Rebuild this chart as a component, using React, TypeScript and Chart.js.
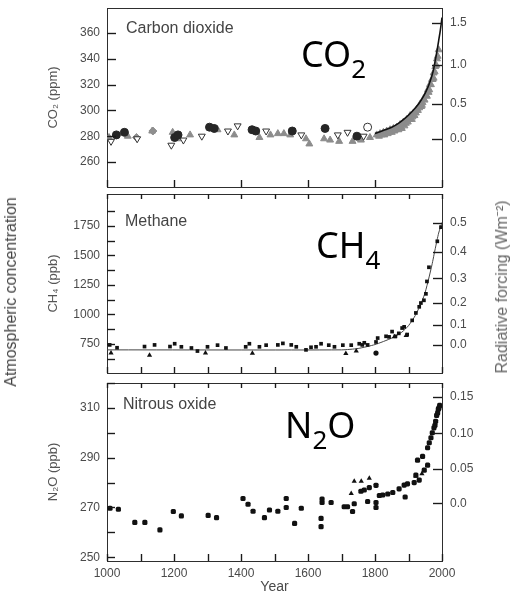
import { useEffect, useRef } from 'react';
import { Chart, registerables } from 'chart.js';
Chart.register(...registerables);

type P = [number, number];

// ---------- shared x axis ----------
const yearLabels = [1000, 1200, 1400, 1600, 1800, 2000];

// ---------- CO2 panel (ppm) ----------
const co2AxisTicks = [260, 280, 300, 320, 340, 360];
const co2ForcingTicks = [0, 0.5, 1.0, 1.5];
const co2ForcingLabels = ['0.0', '0.5', '1.0', '1.5'];
const co2DarkCircles: P[] = [
  [1028, 281], [1052, 283], [1202, 279], [1212, 281], [1306, 287], [1320, 286],
  [1433, 285], [1444, 284], [1553, 284], [1651, 286], [1746, 280],
];
const co2GreyTriangles: P[] = [
  [1006, 279], [1062, 280], [1135, 284], [1196, 283], [1212, 278], [1248, 281],
  [1330, 285], [1380, 281], [1455, 279], [1488, 281], [1510, 282], [1528, 282],
  [1547, 281], [1594, 278], [1604, 274], [1648, 278], [1666, 277], [1693, 276],
  [1733, 276], [1758, 277], [1785, 279], [1805, 281], [1815, 282], [1825, 283],
  [1835, 284], [1845, 285], [1855, 286], [1865, 287], [1875, 289], [1885, 291],
  [1895, 293], [1905, 296], [1915, 298], [1925, 301], [1935, 305], [1945, 309],
  [1952, 312], [1958, 316], [1964, 320], [1970, 324], [1975, 329], [1980, 334],
  [1985, 340], [1820, 281], [1850, 283], [1880, 286], [1910, 293], [1940, 304],
  [1960, 314], [1975, 325], [1990, 347], [1812, 280], [1828, 281], [1838, 282],
  [1842, 283], [1858, 284], [1862, 285], [1870, 285], [1878, 287], [1888, 288],
  [1892, 290], [1898, 291], [1902, 293], [1912, 295], [1918, 296], [1922, 298],
  [1928, 300], [1932, 302], [1938, 303], [1942, 306], [1948, 308], [1955, 311],
  [1962, 316], [1967, 320], [1972, 324], [1978, 330], [1983, 335], [1987, 342],
];
const co2OpenTriangles: P[] = [
  [1012, 276], [1090, 278], [1192, 273], [1228, 277], [1283, 280], [1361, 284],
  [1390, 288], [1475, 284], [1580, 281], [1689, 281], [1718, 283], [1766, 280],
];
const co2OpenCircles: P[] = [[1778, 287]];
const co2Diamonds: P[] = [[1088, 279], [1137, 284]];
const co2Line: P[] = [
  [1800, 282], [1830, 285], [1850, 287], [1870, 290], [1890, 294], [1910, 299],
  [1930, 305], [1945, 311], [1958, 318], [1965, 323], [1970, 327], [1975, 332],
  [1980, 339], [1985, 346], [1990, 354], [1995, 362], [2000, 372],
];

// ---------- CH4 panel (ppb) ----------
const ch4AxisTicks = [750, 1000, 1250, 1500, 1750];
const ch4MinorTicks = [625, 875, 1125, 1375, 1625, 1875];
const ch4ForcingTicks = [0, 0.1, 0.2, 0.3, 0.4, 0.5];
const ch4ForcingLabels = ['0.0', '0.1', '0.2', '0.3', '0.4', '0.5'];
const ch4Squares: P[] = [
  [1008, 742], [1030, 718], [1112, 728], [1142, 742], [1188, 728], [1202, 752],
  [1222, 726], [1252, 716], [1270, 690], [1300, 726], [1330, 740], [1355, 716],
  [1414, 726], [1425, 752], [1455, 726], [1475, 740], [1510, 742], [1525, 755],
  [1550, 742], [1565, 726], [1594, 700], [1609, 722], [1624, 726], [1639, 752],
  [1662, 740], [1679, 726], [1704, 740], [1729, 740], [1753, 752], [1762, 742],
  [1768, 760], [1778, 742], [1803, 767], [1808, 800], [1833, 815], [1842, 810],
  [1851, 855], [1861, 815], [1871, 840], [1881, 885], [1887, 895], [1896, 830],
  [1911, 950], [1922, 1013], [1932, 1065], [1937, 1097], [1946, 1120], [1952, 1175],
  [1955, 1280], [1961, 1400], [1986, 1620], [1997, 1740],
];
const ch4Triangles: P[] = [
  [1012, 673], [1127, 655], [1294, 673], [1434, 672], [1713, 670], [1744, 690],
  [1858, 812], [1893, 822],
];
const ch4Dots: P[] = [[1803, 673]];
const ch4Line: P[] = [
  [1000, 700], [1700, 700], [1750, 712], [1800, 745], [1850, 800], [1880, 850],
  [1900, 905], [1920, 990], [1940, 1110], [1950, 1190], [1960, 1300], [1970, 1420],
  [1980, 1560], [1990, 1690], [2000, 1780],
];

// ---------- N2O panel (ppb) ----------
const n2oAxisTicks = [250, 270, 290, 310];
const n2oMinorTicks = [260, 280, 300, 320];
const n2oForcingTicks = [0, 0.05, 0.1, 0.15];
const n2oForcingLabels = ['0.0', '0.05', '0.10', '0.15'];
const n2oPoints: P[] = [
  [1009, 269.7], [1034, 269.3], [1083, 264], [1113, 264], [1158, 261], [1198, 268.4],
  [1222, 266.6], [1302, 266.8], [1327, 265.9], [1406, 273.6], [1421, 271.3], [1436, 268.5],
  [1470, 265.9], [1485, 269], [1510, 268.5], [1535, 273.6], [1535, 270], [1560, 263.6],
  [1580, 269.7], [1639, 265.6], [1639, 262.3], [1642, 273.4], [1642, 272], [1669, 272],
  [1708, 270.3], [1718, 270.3], [1733, 268.4], [1738, 271.5], [1758, 276.5], [1768, 277],
  [1778, 272.4], [1783, 278], [1803, 278.9], [1803, 272], [1803, 270], [1813, 274.8],
  [1823, 275], [1838, 275.4], [1853, 276], [1872, 277.5], [1887, 279], [1890, 274.2],
  [1897, 279.5], [1917, 280], [1922, 283], [1927, 289], [1932, 281], [1942, 290.5],
  [1947, 285], [1957, 287], [1957, 294], [1962, 296], [1967, 298], [1971, 300],
  [1976, 302], [1979, 303], [1981, 304.6], [1984, 307], [1987, 308], [1989, 309.5],
  [1991, 310], [1993, 311],
];
const n2oTriangles: P[] = [
  [1729, 275.6], [1738, 280.5], [1759, 280.5], [1783, 281.7], [1922, 282.5], [1940, 283.5],
];

// forcing -> concentration (standard simplified expressions)
const co2AtForcing = (f: number) => 278 * Math.exp(f / 5.35);
const ch4AtForcing = (f: number) => Math.pow(Math.sqrt(740) + f / 0.0335, 2);
const n2oAtForcing = (f: number) => Math.pow(Math.sqrt(271.6) + f / 0.12, 2);

const FONT = "'Liberation Sans', Arial, Helvetica, sans-serif";
const AX = '#2e2e2e';
const TICK = '#1a1a1a';
const TXT = '#4a4a4a';

const pts = (a: P[]) => a.map(([x, y]) => ({ x, y }));

// tick marks pointing into the plot area, at each scale's own tick positions
function drawInnerTicks(chart: any, lengths: Record<string, number>) {
  const ctx = chart.ctx;
  const a = chart.chartArea;
  if (!ctx || !a) return;
  ctx.save();
  ctx.strokeStyle = TICK;
  ctx.lineWidth = 1.2;
  ctx.setLineDash([]);
  ctx.globalAlpha = 1;
  ctx.globalCompositeOperation = 'source-over';
  Object.keys(lengths).forEach((id) => {
    const s = chart.scales[id];
    const len = lengths[id];
    if (!s || !len || !s.ticks) return;
    const pos = s.options.position;
    s.ticks.forEach((t: any) => {
      const v = s.getPixelForValue(t.value);
      if (!isFinite(v)) return;
      const p = Math.round(v) + 0.5;
      ctx.beginPath();
      if (pos === 'left') { ctx.moveTo(a.left, p); ctx.lineTo(a.left + len, p); }
      else if (pos === 'right') { ctx.moveTo(a.right, p); ctx.lineTo(a.right - len, p); }
      else if (pos === 'top') { ctx.moveTo(p, a.top); ctx.lineTo(p, a.top + len); }
      else { ctx.moveTo(p, a.bottom); ctx.lineTo(p, a.bottom - len); }
      ctx.stroke();
    });
  });
  ctx.restore();
}
function innerTicks(lengths: Record<string, number>) {
  return {
    id: 'innerTicks',
    afterDraw(chart: any) { drawInnerTicks(chart, lengths); },
  };
}

function xAxis(position: 'top' | 'bottom', step: number, height: number, labels: boolean, title?: string) {
  return {
    type: 'linear',
    position,
    min: 1000,
    max: 2000,
    ticks: {
      stepSize: step,
      autoSkip: false,
      maxRotation: 0,
      display: labels,
      padding: 5,
      color: TXT,
      font: { family: FONT, size: 12 },
      callback: (v: number) => (yearLabels.includes(v) ? String(v) : ''),
    },
    grid: { drawOnChartArea: false, drawTicks: false },
    border: { display: true, color: AX, width: 1 },
    title: title
      ? { display: true, text: title, color: TXT, font: { family: FONT, size: 14 }, padding: { top: 0, bottom: 0 } }
      : { display: false },
    afterFit: (s: any) => { s.height = height; },
  };
}

function leftAxis(min: number, max: number, major: number[], minor: number[], title: string) {
  return {
    type: 'linear',
    position: 'left',
    min,
    max,
    afterBuildTicks: (s: any) => {
      s.ticks = [...major, ...minor].sort((a, b) => a - b).map((v) => ({ value: v }));
    },
    ticks: {
      autoSkip: false,
      padding: 7,
      color: TXT,
      font: { family: FONT, size: 12 },
      callback: (v: number) => (major.includes(v) ? String(v) : ''),
    },
    grid: { drawOnChartArea: false, drawTicks: false },
    border: { display: true, color: AX, width: 1 },
    title: { display: true, text: title, color: '#555', font: { family: FONT, size: 13 }, padding: { top: 46, bottom: 0 } },
    afterFit: (s: any) => { s.width = 107; },
  };
}

function rightAxis(min: number, max: number, forcing: number[], labels: string[], conv: (f: number) => number) {
  return {
    type: 'linear',
    position: 'right',
    min,
    max,
    afterBuildTicks: (s: any) => {
      s.ticks = forcing.map((f) => ({ value: conv(f) }));
    },
    ticks: {
      autoSkip: false,
      padding: 8,
      color: TXT,
      font: { family: FONT, size: 12 },
      callback: (_v: number, i: number) => labels[i],
    },
    grid: { drawOnChartArea: false, drawTicks: false },
    border: { display: true, color: AX, width: 1 },
    afterFit: (s: any) => { s.width = 68; },
  };
}

function baseOptions(scales: any) {
  return {
    responsive: false,
    animation: false,
    events: [],
    plugins: { legend: { display: false }, tooltip: { enabled: false } },
    scales,
  };
}

function scatter(data: P[], o: any) {
  return { type: 'scatter', data: pts(data), showLine: false, yAxisID: 'y', xAxisID: 'x', ...o };
}
function line(data: P[], color: string, width: number) {
  return {
    type: 'line', data: pts(data), showLine: true, borderColor: color, borderWidth: width,
    pointRadius: 0, fill: false, tension: 0.2, yAxisID: 'y', xAxisID: 'x',
  };
}

const tickLen1 = { x: 7, y: 9, yR: 10 };
const tickLen2 = { x: 6, xTop: 5, y: 8, yR: 9 };
const tickLen3 = { x: 7, xTop: 5, y: 8, yR: 9 };

export default function App() {
  const c1 = useRef<HTMLCanvasElement>(null);
  const c2 = useRef<HTMLCanvasElement>(null);
  const c3 = useRef<HTMLCanvasElement>(null);

  useEffect(() => {
    const charts: Chart[] = [];
    // CO2
    const ch1 = new Chart(c1.current!, {
      type: 'scatter',
      plugins: [innerTicks(tickLen1)],
      data: {
        datasets: [
          line(co2Line, '#111', 1.6),
          scatter(co2OpenCircles, { pointStyle: 'circle', pointRadius: 4, backgroundColor: '#fff', borderColor: '#333', borderWidth: 1 }),
          scatter(co2DarkCircles, { pointStyle: 'circle', pointRadius: 4, backgroundColor: '#262626', borderColor: '#262626', borderWidth: 1 }),
          scatter(co2OpenTriangles, { pointStyle: 'triangle', pointRotation: 180, pointRadius: 4, backgroundColor: '#fff', borderColor: '#333', borderWidth: 1 }),
          scatter(co2Diamonds, { pointStyle: 'rectRot', pointRadius: 4, backgroundColor: '#8f8f8f', borderColor: '#8f8f8f', borderWidth: 1 }),
          scatter(co2GreyTriangles, { pointStyle: 'triangle', pointRadius: 4, backgroundColor: '#8c8c8c', borderColor: '#8c8c8c', borderWidth: 1 }),
        ],
      },
      options: baseOptions({
        x: xAxis('bottom', 200, 16, false),
        xTop: xAxis('top', 100, 16, false),
        y: leftAxis(240.6, 379.4, co2AxisTicks, [], 'CO\u2082 (ppm)'),
        yR: rightAxis(240.6, 379.4, co2ForcingTicks, co2ForcingLabels, co2AtForcing),
      }),
    } as any);
    charts.push(ch1);
    // CH4
    const ch2 = new Chart(c2.current!, {
      type: 'scatter',
      plugins: [innerTicks(tickLen2)],
      data: {
        datasets: [
          scatter(ch4Squares, { pointStyle: 'rect', pointRadius: 2.6, backgroundColor: '#111', borderColor: '#111', borderWidth: 0 }),
          scatter(ch4Triangles, { pointStyle: 'triangle', pointRadius: 3, backgroundColor: '#111', borderColor: '#111', borderWidth: 0 }),
          scatter(ch4Dots, { pointStyle: 'circle', pointRadius: 2.6, backgroundColor: '#111', borderColor: '#111', borderWidth: 0 }),
          line(ch4Line, '#444', 1),
        ],
      },
      options: baseOptions({
        x: xAxis('bottom', 100, 16, false),
        xTop: xAxis('top', 100, 16, false),
        y: leftAxis(504, 2021, ch4AxisTicks, ch4MinorTicks, 'CH\u2084 (ppb)'),
        yR: rightAxis(504, 2021, ch4ForcingTicks, ch4ForcingLabels, ch4AtForcing),
      }),
    } as any);
    charts.push(ch2);
    // N2O
    const ch3 = new Chart(c3.current!, {
      type: 'scatter',
      plugins: [innerTicks(tickLen3)],
      data: {
        datasets: [
          scatter(n2oPoints, { pointStyle: 'rectRounded', pointRadius: 3, backgroundColor: '#111', borderColor: '#111', borderWidth: 0 }),
          scatter(n2oTriangles, { pointStyle: 'triangle', pointRadius: 3, backgroundColor: '#111', borderColor: '#111', borderWidth: 0 }),
        ],
      },
      options: baseOptions({
        x: xAxis('bottom', 100, 35, true, 'Year'),
        xTop: xAxis('top', 100, 16, false),
        y: leftAxis(248.5, 320, n2oAxisTicks, n2oMinorTicks, 'N\u2082O (ppb)'),
        yR: rightAxis(248.5, 320, n2oForcingTicks, n2oForcingLabels, n2oAtForcing),
      }),
    } as any);
    charts.push(ch3);
    // draw the inner ticks once more directly after the synchronous render
    drawInnerTicks(ch1, tickLen1);
    drawInnerTicks(ch2, tickLen2);
    drawInnerTicks(ch3, tickLen3);
    return () => charts.forEach((c) => c.destroy());
  }, []);

  const panelTitle = (text: string, left: number, top: number) => (
    <div style={{ position: 'absolute', left, top, fontSize: 16, lineHeight: '16px', color: '#444', whiteSpace: 'nowrap', pointerEvents: 'none' }}>{text}</div>
  );
  const big = (main: string, sub: string, tail: string, left: number, top: number) => (
    <div style={{ position: 'absolute', left, top, fontFamily: "'Noto Sans', 'Open Sans', sans-serif", fontSize: 36, lineHeight: '36px', color: '#000', whiteSpace: 'nowrap', pointerEvents: 'none' }}>
      {main}
      <span style={{ fontSize: 26, position: 'relative', top: 11 }}>{sub}</span>
      {tail}
    </div>
  );
  const vlabel = (text: string, cx: number, cy: number, color: string) => (
    <div style={{ position: 'absolute', left: cx, top: cy, transform: 'translate(-50%, -50%) rotate(-90deg)', fontSize: 16, lineHeight: '18px', color, whiteSpace: 'nowrap', pointerEvents: 'none' }}>{text}</div>
  );

  return (
    <div style={{ position: 'fixed', left: 0, top: 0, width: 510, height: 596, background: '#fff', overflow: 'hidden', fontFamily: FONT }}>
      <canvas ref={c1} width={510} height={211} style={{ position: 'absolute', left: 0, top: -8 }} />
      <canvas ref={c2} width={510} height={211} style={{ position: 'absolute', left: 0, top: 178 }} />
      <canvas ref={c3} width={510} height={229} style={{ position: 'absolute', left: 0, top: 367 }} />
      {panelTitle('Carbon dioxide', 126, 20)}
      {panelTitle('Methane', 125, 213)}
      {panelTitle('Nitrous oxide', 123, 396)}
      {big('CO', '2', '', 301, 36)}
      {big('CH', '4', '', 316, 227)}
      {big('N', '2', 'O', 285, 407)}
      {vlabel('Atmospheric concentration', 11, 292, '#444')}
      {vlabel('Radiative forcing  (Wm\u207B\u00B2)', 502, 287, '#666')}
    </div>
  );
}
